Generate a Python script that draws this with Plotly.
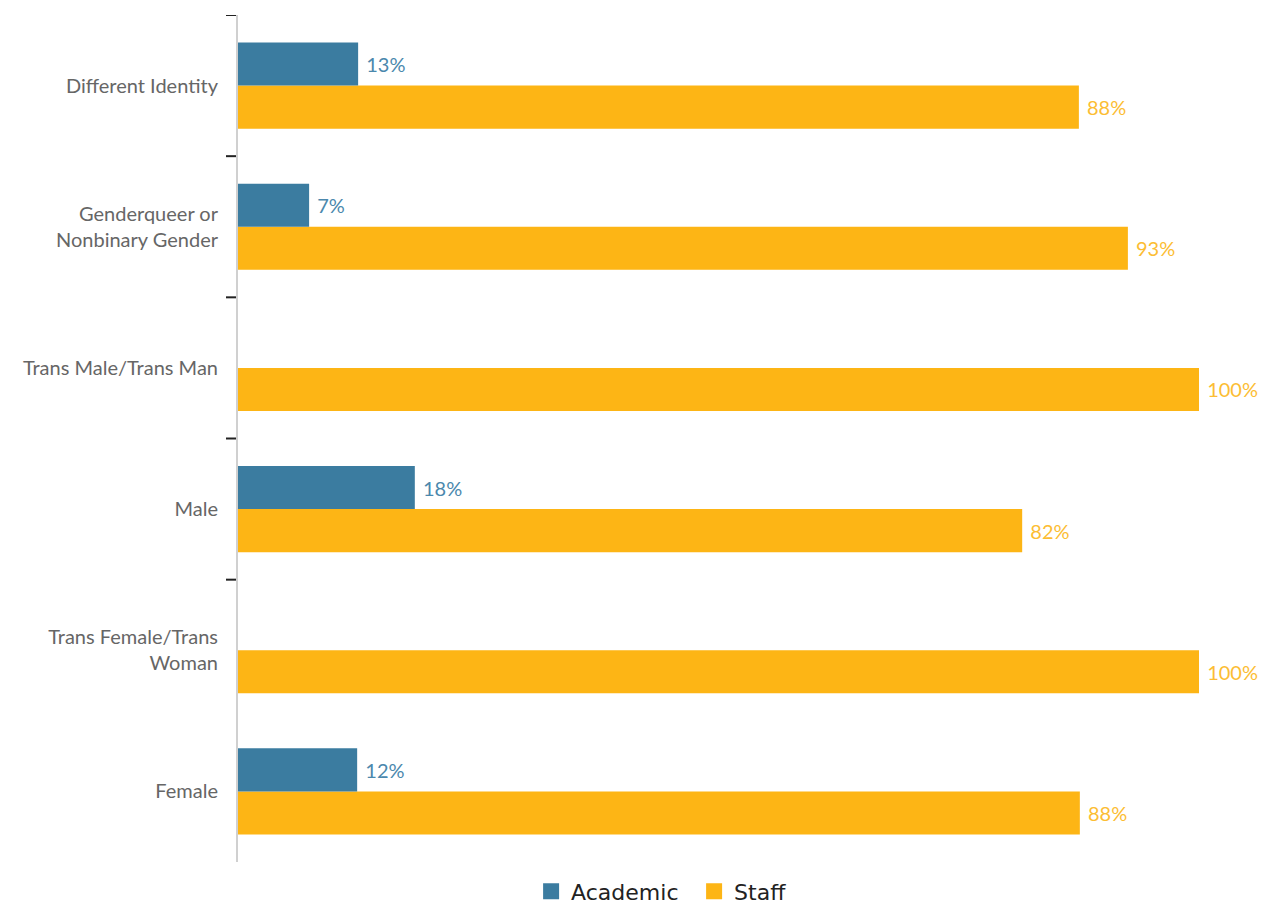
import plotly.graph_objects as go

categories = ["Female", "Trans Female/Trans<br>Woman", "Male", "Trans Male/Trans Man",
              "Genderqueer or<br>Nonbinary Gender", "Different Identity"]
academic = [12.4, None, 18.4, None, 7.4, 12.5]
staff = [87.6, 100, 81.6, 100, 92.6, 87.5]

BLUE = "#3b7ca0"
ORANGE = "#fdb515"
FONT = "Lato, Open Sans, sans-serif"

fig = go.Figure()
fig.add_trace(go.Bar(
    y=categories, x=staff, name="Staff", orientation="h",
    marker=dict(color=ORANGE, line=dict(width=0)),
    texttemplate=" %{x:.0f}%", textposition="outside",
    textfont=dict(color="#fcbd33", size=20, family=FONT), showlegend=False, cliponaxis=False,
))
fig.add_trace(go.Bar(
    y=categories, x=academic, name="Academic", orientation="h",
    marker=dict(color=BLUE, line=dict(width=0)),
    texttemplate=" %{x:.0f}%", textposition="outside",
    textfont=dict(color="#4b88ad", size=20, family=FONT), showlegend=False, cliponaxis=False,
))
# legend entries with larger square swatches
for name, col in [("Academic", BLUE), ("Staff", ORANGE)]:
    fig.add_trace(go.Scatter(x=[None], y=[None], mode="markers", name=name,
                             marker=dict(symbol="square", size=20, color=col)))

# tick marks at category boundaries (except bottom)
for b in [1.5, 2.5, 3.5, 4.5, 5.5]:
    fig.add_shape(type="line", xref="paper", yref="y", xsizemode="pixel", xanchor=0,
                  x0=-12, x1=-2, y0=b, y1=b, line=dict(color="#222", width=2))

fig.update_layout(
    width=1268, height=912,
    margin=dict(l=238, r=69, t=15, b=50, autoexpand=False),
    paper_bgcolor="white", plot_bgcolor="white",
    barmode="group", bargap=0.39, bargroupgap=0,
    font=dict(family=FONT, color="#666"),
    showlegend=True,
    legend=dict(orientation="h", x=0.305, xanchor="left", y=-0.01, yanchor="top",
                font=dict(size=22, color="#222", family="DejaVu Sans, sans-serif"),
                itemsizing="trace", entrywidth=118, entrywidthmode="pixels"),
    xaxis=dict(range=[0, 100], visible=False, showgrid=False, zeroline=False),
    yaxis=dict(range=[-0.5, 5.5], showline=True, linecolor="#d0d0d0", linewidth=2,
               ticks="", showgrid=False, tickfont=dict(size=20, color="#666", family=FONT),
               ticklabelstandoff=14),
)

fig.write_html("out.html", config={"displayModeBar": False},
               post_script="document.body.style.margin='0';")
